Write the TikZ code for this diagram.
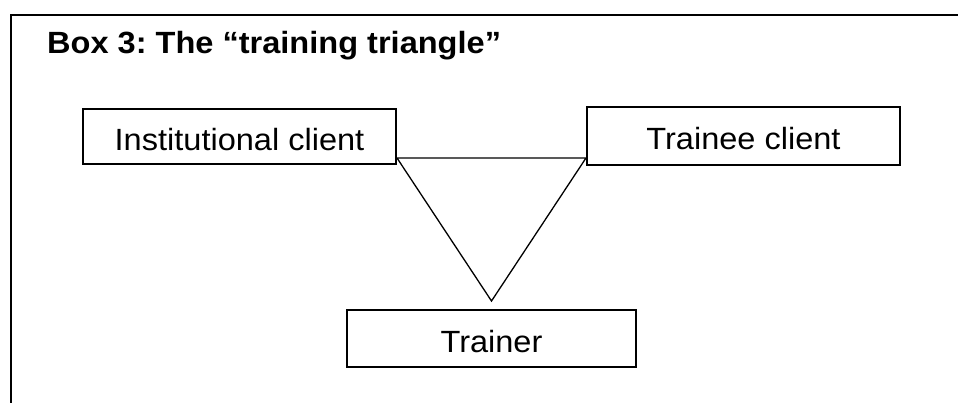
\documentclass[tikz,border=0pt]{standalone}
\usepackage{fontspec}
\setmainfont{Liberation Sans}[FakeStretch=1.06]
\frenchspacing
\begin{document}
\begin{tikzpicture}[x=1pt,y=-1pt,
  frameline/.style={line width=2pt},
  rolebox/.style={draw,line width=2pt,rectangle,inner sep=0pt,
    text height=28pt,text depth=0pt,
    font=\fontsize{30.7}{36}\selectfont},
  triline/.style={line width=1.3pt,line join=miter}]
\useasboundingbox (0,0) rectangle (958,403);
\draw[frameline] (11,403) -- (11,15) -- (958,15);
\node[anchor=base west,inner sep=0pt,font=\bfseries\fontsize{30.7}{36}\selectfont] (title) at (47,54) {Box 3: The “training triangle”};
\node[rolebox,minimum width=313pt,minimum height=55pt] (inst) at (239.5,136.5) {Institutional client};
\node[rolebox,minimum width=313pt,minimum height=58pt] (trainee) at (743.5,136) {Trainee client};
\node[rolebox,minimum width=289pt,minimum height=57pt] (trainer) at (491.5,338.5) {Trainer};
\coordinate (tl) at (inst.east |- 0,158);
\coordinate (tr) at (trainee.west |- 0,158);
\coordinate (apex) at (trainer.north |- 0,301);
\draw[triline] (tl) -- (tr) -- (apex) -- cycle;
\end{tikzpicture}
\end{document}
